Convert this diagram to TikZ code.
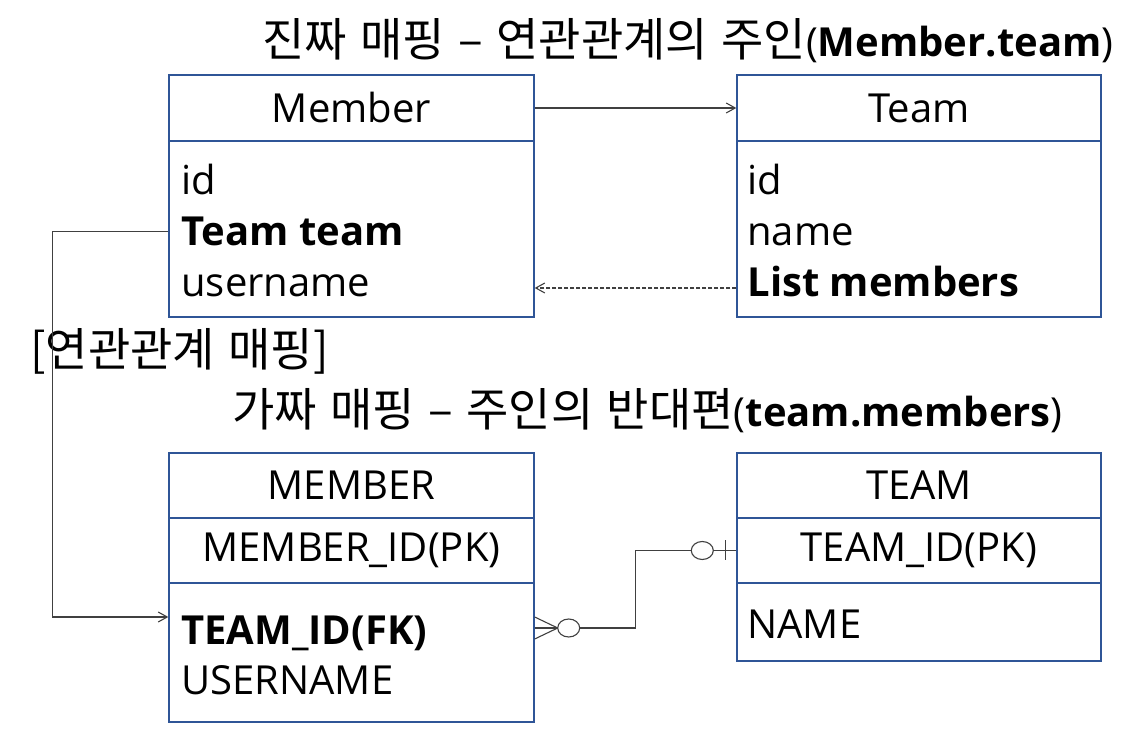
\documentclass[tikz,border=0pt]{standalone}
\usepackage{fontspec}
\setmainfont{Open Sans}
\newfontfamily\kr[WordSpace=1.3]{Noto Sans CJK KR}
\usetikzlibrary{arrows.meta, calc, positioning}

\definecolor{boxblue}{HTML}{2F5597}
\definecolor{linegray}{HTML}{404040}

\tikzset{
  box/.style={draw=boxblue, line width=0.7pt, rectangle, minimum width=182.5pt,
    inner sep=0pt, font=\fontsize{20}{24}\selectfont},
  field/.style={anchor=base west, inner sep=0pt, font=\fontsize{20}{24}\selectfont},
  heading/.style={anchor=base west, inner sep=0pt, font=\fontsize{20}{24}\selectfont},
  conn/.style={draw=linegray, line width=0.55pt},
  tip/.style={-{Straight Barb[length=4.5pt, width=5pt]}},
}
\newcommand{\krtext}[1]{{\kr\fontsize{23}{27}\selectfont #1}}

\begin{document}
\begin{tikzpicture}[x=0.5pt, y=-0.5pt]
  \useasboundingbox (0,0) rectangle (1146,731);

  % object model
  \node[heading] (title1) at (262,57) {\krtext{진짜 매핑 – 연관관계의 주인}(\textbf{Member.team})};
  \node[box, minimum height=33pt] (memhead) at (351.5,108) {Member};
  \node[box, minimum height=88pt] (membody) at (351.5,229) {};
  \node[field] (memid) at (181,195) {id};
  \node[field] (memteam) at (181,246) {\textbf{Team team}};
  \node[field] (memname) at (181,297) {username};

  \node[box, minimum width=182pt, minimum height=33pt] (teamhead) at (919,108) {Team};
  \node[box, minimum width=182pt, minimum height=88pt] (teambody) at (919,229) {};
  \node[field] (teamid) at (747,195) {id};
  \node[field] (teamname) at (747,246) {name};
  \node[field] (teamlist) at (747,297) {\textbf{List members}};

  \draw[conn, tip] (memhead.east) -- (teamhead.west);
  \draw[conn, tip, dashed, dash pattern=on 2pt off 1pt] ([yshift=-29.5pt]teambody.west) -- ([yshift=-29.5pt]membody.east);

  \node[heading] (maplabel) at (30,367) {\krtext{[연관관계 매핑]}};
  \node[heading] (title2) at (232,427) {\krtext{가짜 매핑 – 주인의 반대편}(\textbf{team.members})};

  % tables
  \node[box, minimum height=32.5pt] (MEMhead) at (351.5,485.5) {MEMBER};
  \node[box, minimum height=32.5pt] (MEMpk) at (351.5,550.5) {MEMBER\_ID(PK)};
  \node[box, minimum height=69.5pt] (MEMbody) at (351.5,652.5) {};
  \node[field] (MEMfk) at (181,645) {\textbf{TEAM\_ID(FK)}};
  \node[field] (MEMname) at (181,695) {USERNAME};

  \node[box, minimum width=182pt, minimum height=32.5pt] (TEAMhead) at (919,485.5) {TEAM};
  \node[box, minimum width=182pt, minimum height=32.5pt] (TEAMpk) at (919,550.5) {TEAM\_ID(PK)};
  \node[box, minimum width=182pt, minimum height=39pt] (TEAMbody) at (919,622) {};
  \node[field] (TEAMname) at (747,639) {NAME};

  \draw[conn, tip] (membody.west |- memteam.center) -- ++(-116,0) |- ([yshift=17.75pt]MEMbody.west);

  % crow's foot
  \coordinate (fk) at ([yshift=12.25pt]MEMbody.east);
  \draw[conn] (fk) -- ++(101,0) |- (TEAMpk.west);
  \draw[conn] ($(fk)+(0,-11)$) -- ($(fk)+(23,0)$) -- ($(fk)+(0,11)$);
  \draw[conn, fill=white] ($(fk)+(34,0)$) ellipse [x radius=5.5pt, y radius=4.5pt];
  \draw[conn, fill=white] ($(TEAMpk.west)+(-34,0)$) ellipse [x radius=5.5pt, y radius=4.5pt];
  \draw[conn] ($(TEAMpk.west)+(-11,-10)$) -- ($(TEAMpk.west)+(-11,10)$);
\end{tikzpicture}
\end{document}
